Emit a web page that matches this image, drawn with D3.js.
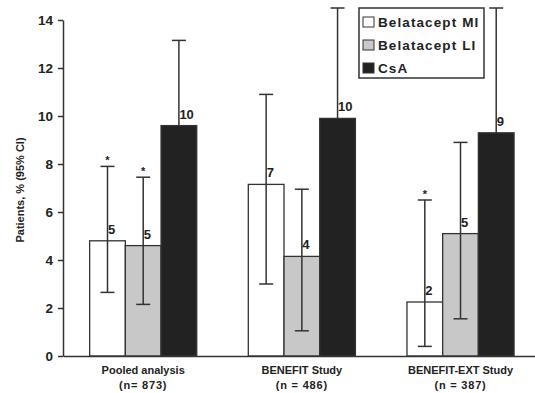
<!DOCTYPE html>
<html>
<head>
<meta charset="utf-8">
<script src="https://cdn.jsdelivr.net/npm/d3@7"></script>
<style>
  body { margin: 0; background: #fff; }
  text { font-family: "Liberation Sans", Arial, sans-serif; font-weight: bold; fill: #222; }
</style>
</head>
<body>
<div id="container"></div>
<script>
// chart data
const groups = ["Pooled analysis", "BENEFIT Study", "BENEFIT-EXT Study"];
const groupN = ["(n= 873)", "(n = 486)", "(n = 387)"];
const series = ["Belatacept MI", "Belatacept LI", "CsA"];
const seriesFill = ["#ffffff", "#c8c8c8", "#222222"];

const valMI = [4.8, 7.15, 2.25];
const valLI = [4.6, 4.15, 5.1];
const valCsA = [9.6, 9.9, 9.3];
const loMI = [2.65, 3.0, 0.4];
const hiMI = [7.9, 10.9, 6.5];
const loLI = [2.15, 1.05, 1.55];
const hiLI = [7.45, 6.95, 8.9];
const loCsA = [6.6, 6.8, 5.9];
const hiCsA = [13.15, 14.5, 14.5];
const labels = [["5", "7", "2"], ["5", "4", "5"], ["10", "10", "9"]];
const starred = [[true, false, true], [true, false, false], [false, false, false]];
const yTicks = [0, 2, 4, 6, 8, 10, 12, 14];

const w = 535, h = 393;
const svg = d3.select("#container").append("svg")
  .attr("width", w).attr("height", h);

const y = d3.scaleLinear().domain([0, 14]).range([356, 20]);
const x0 = d3.scaleBand().domain(groups).range([63, 535])
  .paddingInner(0.325).paddingOuter(0.15).align(0.56);
const x1 = d3.scaleBand().domain(series).range([0, x0.bandwidth()]);

const vals = [valMI, valLI, valCsA];
const los = [loMI, loLI, loCsA];
const his = [hiMI, hiLI, hiCsA];

const rows = [];
series.forEach((s, si) => {
  groups.forEach((g, gi) => {
    rows.push({ s, si, g, gi, v: vals[si][gi], lo: los[si][gi], hi: his[si][gi],
      label: labels[si][gi], star: starred[si][gi] });
  });
});

const cx = d => x0(d.g) + x1(d.s) + x1.bandwidth() / 2;

// y axis
const yAxis = d3.axisLeft(y).tickValues(yTicks).tickSize(5).tickSizeOuter(0).tickPadding(5);
const yg = svg.append("g").attr("transform", "translate(63,0)").call(yAxis);
yg.selectAll("path, line").attr("stroke", "#333").attr("stroke-width", 1.5);
yg.selectAll("text").style("font-size", "13.5px").style("font-family", "Liberation Sans, Arial, sans-serif")
  .style("font-weight", "bold").attr("fill", "#222");

svg.append("text")
  .attr("transform", "translate(24," + ((y(0) + y(14)) / 2 + 2) + ") rotate(-90)")
  .attr("text-anchor", "middle")
  .style("font-size", "11px")
  .text("Patients, % (95% CI)");

// bars MI and LI first
const barsFront = rows.filter(d => d.si < 2);
const barsBack = rows.filter(d => d.si === 2);

const drawBars = (data) => {
  svg.append("g").selectAll("rect").data(data).enter().append("rect")
    .attr("x", d => x0(d.g) + x1(d.s))
    .attr("y", d => y(d.v))
    .attr("width", x1.bandwidth())
    .attr("height", d => y(0) - y(d.v))
    .attr("fill", d => seriesFill[d.si])
    .attr("stroke", "#333")
    .attr("stroke-width", 1.3);
};
drawBars(barsFront);

// error bars
const capW = 14;
const eg = svg.append("g").attr("stroke", "#333").attr("stroke-width", 1.5);
eg.selectAll(".ev").data(rows).enter().append("line")
  .attr("x1", cx).attr("x2", cx)
  .attr("y1", d => y(d.lo)).attr("y2", d => y(d.hi));
eg.selectAll(".eh").data(rows).enter().append("line")
  .attr("x1", d => cx(d) - capW / 2).attr("x2", d => cx(d) + capW / 2)
  .attr("y1", d => y(d.hi)).attr("y2", d => y(d.hi));
eg.selectAll(".el").data(rows).enter().append("line")
  .attr("x1", d => cx(d) - capW / 2).attr("x2", d => cx(d) + capW / 2)
  .attr("y1", d => y(d.lo)).attr("y2", d => y(d.lo));

// CsA bars cover their lower whiskers
drawBars(barsBack);

// x axis
const xAxis = d3.axisBottom(x0).tickSize(0).tickSizeOuter(0).tickFormat("");
const xg = svg.append("g").attr("transform", "translate(0," + y(0) + ")").call(xAxis);
xg.select("path").attr("stroke", "#333").attr("stroke-width", 1.5);

groups.forEach((g, gi) => {
  const mid = x0(g) + x0.bandwidth() / 2;
  const t = svg.append("text")
    .attr("y", 374)
    .attr("text-anchor", "middle")
    .style("font-size", "11px");
  t.append("tspan").attr("x", mid).text(g);
  t.append("tspan").attr("x", mid).attr("dy", 15).style("letter-spacing", "0.8px").text(groupN[gi]);
});

// value labels
svg.append("g").selectAll("text").data(rows).enter().append("text")
  .attr("x", d => cx(d) + 0.5)
  .attr("y", d => y(d.v) - 7)
  .style("font-size", "13px")
  .text(d => d.label);

// asterisks
svg.append("g").selectAll("text").data(rows.filter(d => d.star)).enter().append("text")
  .attr("x", cx)
  .attr("y", d => y(d.hi) - 2)
  .attr("text-anchor", "middle")
  .style("font-size", "11px")
  .text("*");

// legend
const lg = svg.append("g").attr("transform", "translate(359,8)");
lg.append("rect").attr("width", 125).attr("height", 70)
  .attr("fill", "#fff").attr("stroke", "#333").attr("stroke-width", 1.5);
series.forEach((s, si) => {
  const row = lg.append("g").attr("transform", "translate(4," + (9 + si * 23) + ")");
  row.append("rect").attr("width", 11).attr("height", 10)
    .attr("fill", seriesFill[si]).attr("stroke", "#333").attr("stroke-width", 1);
  row.append("text").attr("x", 15).attr("y", 10)
    .style("font-size", "13.5px").style("letter-spacing", "1.1px")
    .text(s);
});
</script>
</body>
</html>
